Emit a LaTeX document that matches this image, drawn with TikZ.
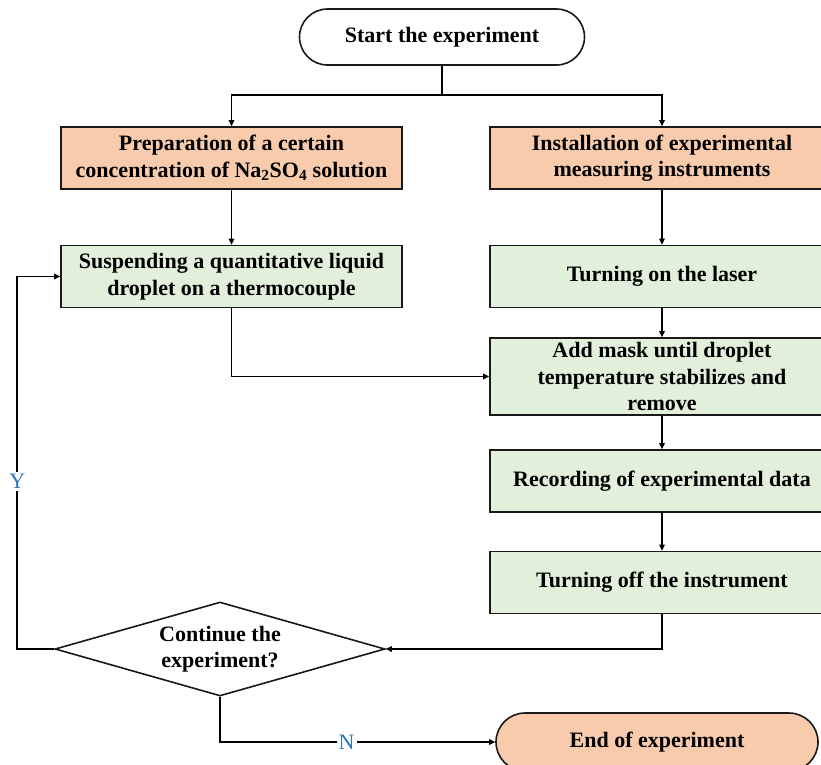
\documentclass[tikz,border=0pt]{standalone}
\usepackage{fontspec}
\setmainfont{Liberation Serif}
\usetikzlibrary{shapes.geometric,arrows.meta}
\definecolor{orangefill}{HTML}{F8CBAD}
\definecolor{greenfill}{HTML}{E2EFDA}
\definecolor{lblblue}{HTML}{2E75B6}
\begin{document}
\begin{tikzpicture}[x=1pt,y=-1pt,
  base/.style={draw=black!90, line width=1.6pt, align=center, inner sep=1pt,
    font=\fontsize{22}{26.5}\selectfont\bfseries},
  obox/.style={base, fill=orangefill, minimum width=341pt, minimum height=62pt},
  gbox/.style={base, fill=greenfill, minimum width=341pt, minimum height=62pt},
  term/.style={base, minimum height=56pt, rounded corners=28pt},
  dec/.style={base, diamond, minimum width=330pt, minimum height=94pt, inner sep=0pt, aspect=3.5},
  arr/.style={line width=1.5pt, -{Triangle[length=6pt,width=5.5pt]}},
  ln/.style={line width=1.5pt},
  lbl/.style={fill=white, text=lblblue, font=\fontsize{22}{24}\selectfont, inner sep=2pt}]
\useasboundingbox (0,0) rectangle (821,764);
\clip (0,0) rectangle (821,764);

\node[term, minimum width=285pt] (start) at (442,37) {Start the experiment};
\node[obox] (prep) at (231.5,158) {Preparation of a certain\\concentration of Na\textsubscript{2}SO\textsubscript{4} solution};
\node[obox, minimum width=344pt] (inst) at (662,158) {Installation of experimental\\measuring instruments};
\node[gbox] (susp) at (231.5,276.5) {Suspending a quantitative liquid\\droplet on a thermocouple};
\node[gbox, minimum width=344pt] (laser) at (662,276.5) {Turning on the laser};
\node[gbox, minimum width=344pt, minimum height=77pt] (mask) at (662,376.5) {Add mask until droplet\\temperature stabilizes and\\remove};
\node[gbox, minimum width=344pt] (rec) at (662,481) {Recording of experimental data};
\node[gbox, minimum width=344pt] (off) at (662,582.5) {Turning off the instrument};
\node[dec] (cont) at (220,649) {Continue the\\experiment?};
\node[term, fill=orangefill, minimum width=322pt, minimum height=58pt, rounded corners=29pt] (end) at (657,742) {End of experiment};

\draw[ln] (start.south) -- (start.south |- 0,95) coordinate (j);
\draw[arr] (j) -| (prep.north);
\draw[arr] (j) -| (inst.north);
\draw[arr] (prep) -- (susp);
\draw[arr] (inst) -- (laser);
\draw[arr] (laser) -- (mask);
\draw[arr] (mask) -- (rec);
\draw[arr] (rec) -- (off);
\draw[arr] (susp.south) |- (mask.west);
\draw[arr] (off.south) |- (cont.east);
\draw[arr] (cont.west) -- ++(-37,0) |- node[lbl, pos=0.225]{Y} (susp.west);
\draw[arr] (cont.south) |- node[lbl, pos=0.73]{N} (end.west);
\end{tikzpicture}
\end{document}
